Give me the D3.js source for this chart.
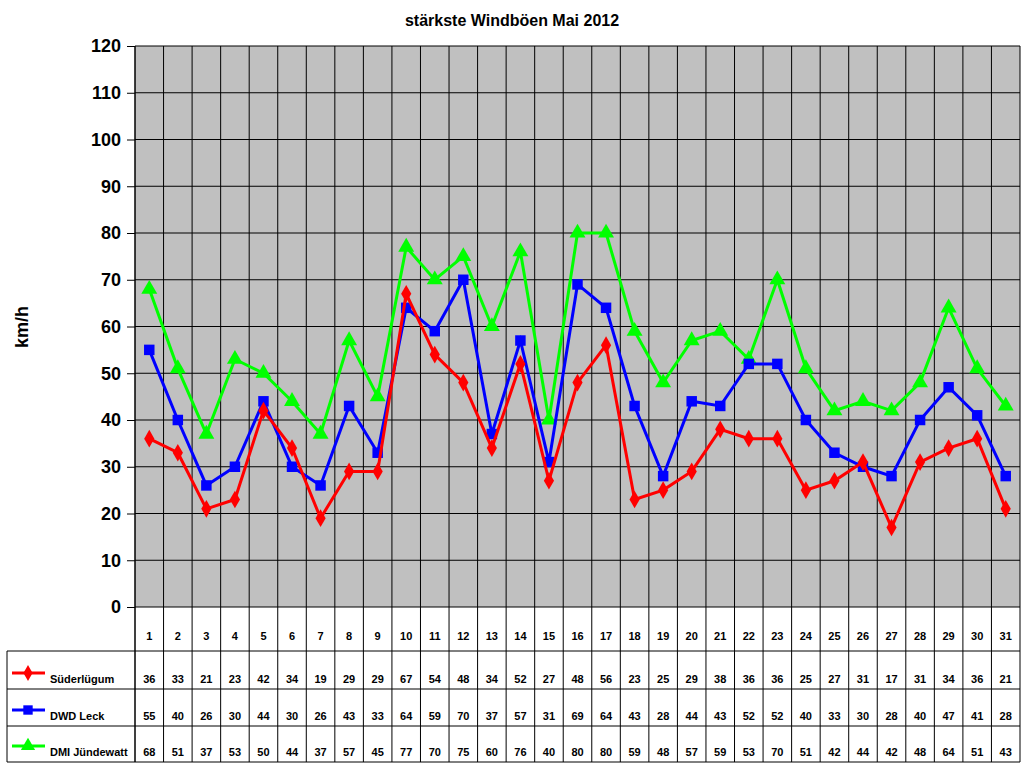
<!DOCTYPE html><html><head><meta charset="utf-8"><script src="https://cdn.jsdelivr.net/npm/d3@7"></script>
<style>body{margin:0;background:#fff}text{font-family:Arial,"Liberation Sans",sans-serif;font-weight:bold}</style></head><body>
<svg id="c" width="1024" height="768"></svg>
<script>
const days=d3.range(1,32);
const suederluegum=[36,33,21,23,42,34,19,29,29,67,54,48,34,52,27,48,56,23,25,29,38,36,36,25,27,31,17,31,34,36,21];
const dwdLeck=[55,40,26,30,44,30,26,43,33,64,59,70,37,57,31,69,64,43,28,44,43,52,52,40,33,30,28,40,47,41,28];
const dmiJuendewatt=[68,51,37,53,50,44,37,57,45,77,70,75,60,76,40,80,80,59,48,57,59,53,70,51,42,44,42,48,64,51,43];
const yTicks=d3.range(0,121,10);
const series=[
 {name:"Süderlügum",vals:suederluegum,color:"#ff0000",sym:d3.symbolDiamond,size:90},
 {name:"DWD Leck",vals:dwdLeck,color:"#0000ff",sym:d3.symbolSquare,size:110},
 {name:"DMI Jündewatt",vals:dmiJuendewatt,color:"#00ff00",sym:d3.symbolTriangle,size:110}];
const svg=d3.select("#c");
const L=135,R=1020,T=46,B=607;
const xb=d3.scaleBand().domain(days).range([L,R]);
const y=d3.scaleLinear().domain([0,120]).range([B,T]);
svg.append("text").attr("x",512).attr("y",26).attr("text-anchor","middle").attr("font-size",16).text("stärkste Windböen Mai 2012");
svg.append("rect").attr("x",L).attr("y",T).attr("width",R-L).attr("height",B-T).attr("fill","#c0c0c0");
svg.selectAll(".hg").data(yTicks).join("line").attr("x1",L).attr("x2",R).attr("y1",d=>y(d)).attr("y2",d=>y(d)).attr("stroke","#000");
const ax=svg.append("g").attr("transform",`translate(${L},0)`).call(d3.axisLeft(y).tickValues(yTicks).tickSize(8).tickPadding(6));
ax.select(".domain").remove();
ax.selectAll("text").attr("font-size",18).attr("fill","#000");
svg.append("text").attr("transform","translate(28,327) rotate(-90)").attr("text-anchor","middle").attr("font-size",18).text("km/h");
// columns
const cols=days.map(d=>xb(d)).concat([R]);
svg.selectAll(".vg").data(cols).join("line").attr("x1",d=>d).attr("x2",d=>d).attr("y1",T).attr("y2",762).attr("stroke","#000");
svg.append("line").attr("x1",L).attr("x2",L).attr("y1",T).attr("y2",762).attr("stroke","#000");
const rowY=[651,689,726,762];
svg.selectAll(".rl").data(rowY).join("line").attr("x1",7).attr("x2",R).attr("y1",d=>d).attr("y2",d=>d).attr("stroke","#000");
svg.append("line").attr("x1",7).attr("x2",7).attr("y1",651).attr("y2",762).attr("stroke","#000");
svg.selectAll(".dn").data(days).join("text").attr("x",d=>xb(d)+xb.bandwidth()/2).attr("y",640).attr("text-anchor","middle").attr("font-size",11).text(d=>d);
series.forEach((s,i)=>{
 const ry=rowY[i+1]-6;
 svg.append("g").selectAll("text").data(s.vals).join("text").attr("x",(d,j)=>xb(days[j])+xb.bandwidth()/2).attr("y",ry).attr("text-anchor","middle").attr("font-size",11).text(d=>d);
 svg.append("line").attr("x1",12).attr("x2",45).attr("y1",ry-10).attr("y2",ry-10).attr("stroke",s.color).attr("stroke-width",3);
 svg.append("path").attr("d",d3.symbol(s.sym,s.size*0.8)()).attr("transform",`translate(28,${ry-10})`).attr("fill",s.color);
 svg.append("text").attr("x",50).attr("y",ry).attr("font-size",11).text(s.name);
});
const line=d3.line().x((d,j)=>xb(days[j])+xb.bandwidth()/2).y(d=>y(d));
series.slice().reverse().forEach(s=>{
 svg.append("path").attr("d",line(s.vals)).attr("fill","none").attr("stroke",s.color).attr("stroke-width",3);
 svg.append("g").selectAll("path").data(s.vals).join("path").attr("d",d3.symbol(s.sym,s.size)()).attr("transform",(d,j)=>`translate(${xb(days[j])+xb.bandwidth()/2},${y(d)})`).attr("fill",s.color);
});
</script></body></html>
